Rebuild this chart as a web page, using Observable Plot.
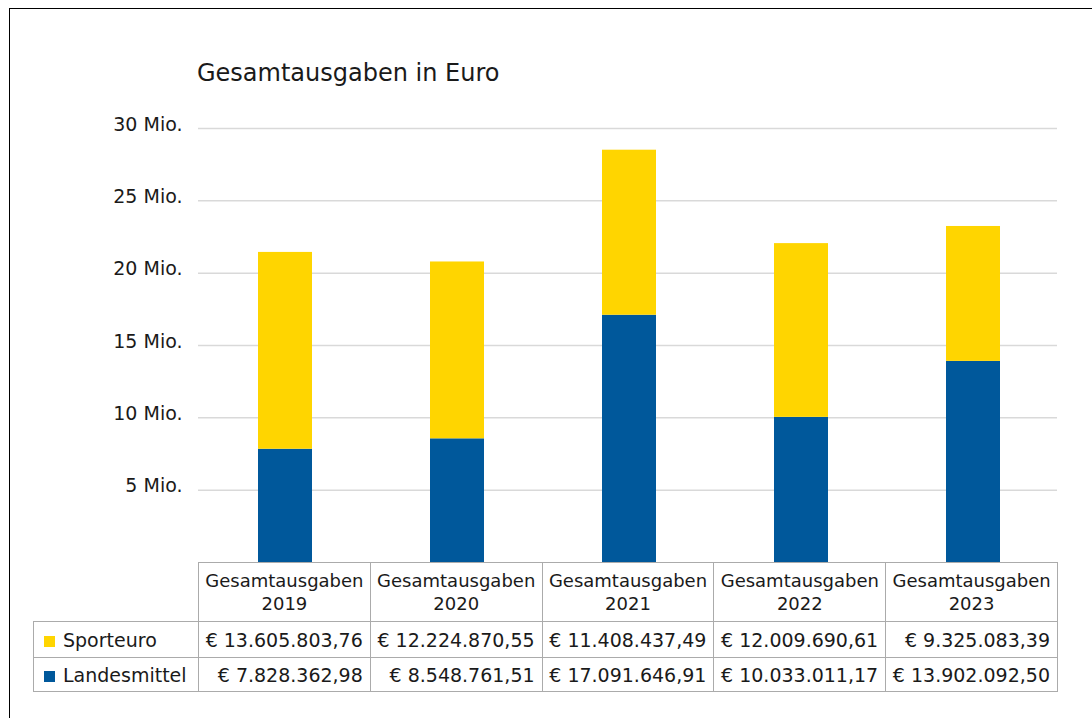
<!DOCTYPE html>
<html><head><meta charset="utf-8">
<script src="https://cdn.jsdelivr.net/npm/d3@7"></script>
<script src="https://cdn.jsdelivr.net/npm/@observablehq/plot@0.6"></script>
<style>
body{margin:0;background:#fff;overflow:hidden;font-family:"DejaVu Sans",sans-serif;color:#1a1a1a;width:1092px;height:718px;position:relative}
#frame{position:absolute;left:9px;top:8px;width:1200px;height:800px;border:1.5px solid #000;box-sizing:border-box}
#title{position:absolute;left:197px;top:59px;font-size:24px;white-space:nowrap}
#chart{position:absolute;left:0;top:0}
table{position:absolute;left:33px;top:562px;border-collapse:collapse;table-layout:fixed;font-size:19px}
td,th{border:1.5px solid #ababab;padding:0;white-space:nowrap;font-weight:normal}
th{font-size:18px;line-height:23px;text-align:center;vertical-align:middle}
td.v{text-align:right;padding-right:7px}
td.lab{text-align:left;padding-left:10px}
.sw{display:inline-block;width:11px;height:11px;margin-right:8px;vertical-align:0px}
th.empty{border-top:none;border-left:none;border-bottom:1.5px solid #ababab}
</style></head>
<body>
<div id="frame"></div>
<div id="title">Gesamtausgaben in Euro</div>
<div id="chart"></div>
<table id="tbl"></table>
<script>
const years = ["2019", "2020", "2021", "2022", "2023"];
const headerLabels = ["Gesamtausgaben 2019", "Gesamtausgaben 2020", "Gesamtausgaben 2021", "Gesamtausgaben 2022", "Gesamtausgaben 2023"];
const seriesNames = ["Landesmittel", "Sporteuro"];
const sporteuro = [13605803.76, 12224870.55, 11408437.49, 12009690.61, 9325083.39];
const landesmittel = [7828362.98, 8548761.51, 17091646.91, 10033011.17, 13902092.50];
const yTicks = [5e6, 10e6, 15e6, 20e6, 25e6, 30e6];
const colors = {Landesmittel: "#00589b", Sporteuro: "#ffd500"};

const rows = years.flatMap((y, i) => [
  {year: y, series: "Landesmittel", value: landesmittel[i]},
  {year: y, series: "Sporteuro", value: sporteuro[i]}
]);

const chart = Plot.plot({
  width: 1092, height: 562,
  marginLeft: 198, marginRight: 32, marginTop: 128, marginBottom: 0,
  style: {fontFamily: "DejaVu Sans", fontSize: "19px", color: "#1a1a1a", background: "transparent"},
  x: {domain: years, paddingInner: 0.684, paddingOuter: 0.342, axis: null},
  y: {domain: [0, 30e6], axis: null},
  color: {domain: seriesNames, range: seriesNames.map(s => colors[s])},
  marks: [
    Plot.gridY(yTicks, {stroke: "#d9d9d9", strokeOpacity: 1, strokeWidth: 1.5, insetRight: 3}),
    Plot.axisY(yTicks, {tickSize: 0, tickPadding: 16, tickFormat: d => d / 1e6 + " Mio.", label: null, dy: -4}),
    Plot.barY(rows, {x: "year", y: "value", fill: "series"})
  ]
});
document.getElementById("chart").append(chart);

function fmt(v) {
  const [int, dec] = v.toFixed(2).split(".");
  return "€ " + int.replace(/\B(?=(\d{3})+(?!\d))/g, ".") + "," + dec;
}
const tbl = document.getElementById("tbl");
let html = '<colgroup><col style="width:165px">' + years.map(() => '<col style="width:171.8px">').join("") + '</colgroup>';
html += '<tr style="height:59px"><th class="empty"></th>' + headerLabels.map(h => {
  const parts = h.split(" ");
  return `<th>${parts[0]}<br>${parts[1]}</th>`;
}).join("") + '</tr>';
const tableSeries = [["Sporteuro", sporteuro, 36], ["Landesmittel", landesmittel, 34]];
for (const [name, vals, h] of tableSeries) {
  html += `<tr style="height:${h}px"><td class="lab"><span class="sw" style="background:${colors[name]}"></span>${name}</td>` +
    vals.map(v => `<td class="v">${fmt(v)}</td>`).join("") + '</tr>';
}
tbl.innerHTML = html;
</script>
</body></html>
